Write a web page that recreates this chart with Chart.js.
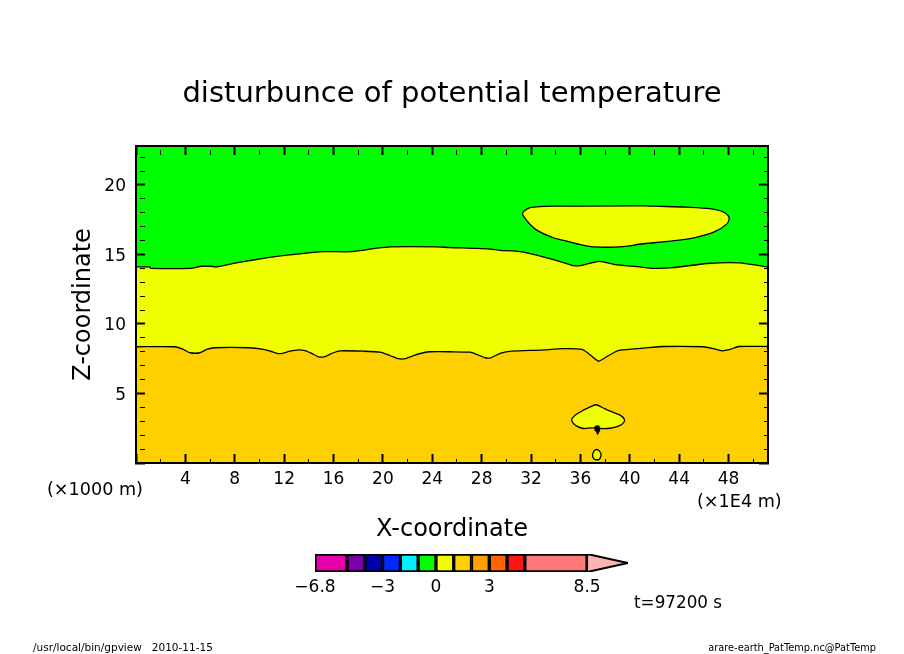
<!DOCTYPE html>
<html><head><meta charset="utf-8">
<style>html,body{margin:0;padding:0;background:#fff;overflow:hidden}canvas{position:absolute;left:0;top:0}</style>
<script src="https://cdn.jsdelivr.net/npm/chart.js@4"></script>
</head><body>
<canvas id="main" width="904" height="654"></canvas>
<canvas id="bar" width="904" height="654"></canvas>
<script>
const titleText = 'disturbunce of potential temperature';
const xLabel = 'X-coordinate';
const yLabel = 'Z-coordinate';
const FONT = '"DejaVu Sans"';
const GREEN = '#00ff00', YELLOW = '#f0ff00', GOLD = '#ffd000';

const domainTop = [[0,22.8],[51.2,22.8]];
const contourUpper = [[0,14.1],[1.1,14.1],[1.2,14.0],[4.5,14.0],[5.3,14.15],[6.1,14.15],[6.4,14.1],[7.9,14.35],[9.5,14.6],[11.7,14.9],[13.3,15.05],[15.1,15.2],[17.5,15.2],[19.5,15.45],[20.6,15.55],[24.3,15.55],[25.4,15.5],[28.5,15.4],[29.5,15.3],[31.1,15.2],[32.7,14.9],[34.1,14.55],[35.4,14.2],[36,14.2],[37.5,14.5],[39,14.25],[40.8,14.1],[41.9,14.0],[43.5,14.05],[46.25,14.35],[48.9,14.4],[51.2,14.1]];
const contourLower = [[0,8.36],[3.16,8.36],[3.83,8.17],[4.38,7.93],[5.19,7.93],[5.73,8.17],[6.4,8.29],[9.1,8.29],[10.32,8.17],[11.13,7.97],[11.67,7.86],[12.48,8.04],[13.15,8.14],[13.7,8.09],[14.24,7.88],[14.77,7.64],[15.24,7.64],[15.99,7.93],[16.53,8.07],[18.42,8.04],[19.77,7.97],[20.58,7.73],[21.26,7.5],[21.8,7.5],[22.47,7.73],[23.28,7.93],[23.82,8.0],[25.45,8.0],[27.07,7.97],[27.6,7.81],[28.28,7.57],[28.74,7.57],[29.5,7.88],[30.45,8.04],[32.74,8.12],[34.63,8.22],[36.12,8.17],[36.65,7.88],[37.46,7.32],[37.87,7.5],[38.68,7.93],[39.22,8.12],[41.1,8.26],[42.73,8.38],[45.97,8.36],[46.78,8.22],[47.46,8.07],[48.14,8.17],[48.81,8.38],[51.2,8.38]];
const blobUpper = [[31.3,17.88],[31.4,18.09],[31.93,18.36],[33.8,18.47],[41.1,18.5],[42.06,18.47],[44.6,18.4],[46.5,18.29],[47.6,18.04],[48.05,17.64],[47.87,17.2],[46.8,16.6],[45.2,16.2],[43.3,15.96],[41.1,15.77],[39.2,15.55],[37.06,15.55],[35.7,15.77],[34.9,15.96],[33.8,16.2],[32.5,16.73],[31.8,17.28],[31.3,17.88]];
const blobLower = [[35.27,3.13],[35.57,3.44],[36.25,3.8],[36.93,4.09],[37.28,4.19],[37.74,4.01],[38.41,3.73],[39.22,3.44],[39.57,3.13],[39.49,2.89],[39.08,2.65],[38.41,2.5],[37.6,2.48],[36.93,2.53],[36.25,2.48],[35.71,2.65],[35.39,2.89],[35.27,3.13]];
const blobSpeck = [[37.2,2.65],[37.5,2.65],[37.55,2.35],[37.4,2.1],[37.25,2.35],[37.2,2.65]];
const blobCircle = [[36.98,0.6],[37.1,0.85],[37.33,0.97],[37.55,0.85],[37.68,0.6],[37.6,0.35],[37.5,0.25],[37.2,0.25],[37.05,0.35],[36.98,0.6]];

const colorLevels = [-6.8,-5,-4,-3,-2,-1,0,1,2,3,4,5,8.5];
const colorFills = ['#e600aa','#7a00aa','#0000aa','#0028ff','#00f0ff','#00ff00','#f0ff00','#ffd000','#ffa000','#ff6600','#ff1414','#ff7878'];
const colorTicks = [-6.8,-3,0,3,8.5];
const colorTip = [[8.5,1],[10.8,0.5],[8.5,0],[8.5,1]];
const tipFill = '#ffb4b4';

const pts = a => a.map(p => ({x:p[0], y:p[1]}));
const line = (data, fill, color, width, tension) => ({data: pts(data), showLine:true, fill, backgroundColor:color, borderColor:'#000', borderWidth:width, pointRadius:0, tension});

const overlayText = {
  id:'overlayText',
  afterDraw(chart){
    const c = chart.ctx;
    c.save();
    c.fillStyle = '#000';
    c.textBaseline = 'middle';
    c.textAlign = 'left';
    c.font = '17.6px ' + FONT;
    c.fillText('(×1000 m)', 47, 490);
    c.fillText('(×1E4 m)', 697, 502);
    c.font = '16.8px ' + FONT;
    c.fillText('t=97200 s', 634, 604);
    c.font = '10.5px ' + FONT;
    c.fillText('/usr/local/bin/gpview   2010-11-15', 33, 648);
    c.textAlign = 'right';
    c.font = '9.8px ' + FONT;
    c.fillText('arare-earth_PatTemp.nc@PatTemp', 876, 648);
    c.restore();
  }
};

const axisCommon = (major) => ({
  type:'linear',
  grid:{drawOnChartArea:false, tickLength:-9, z:1, tickColor:'#000',
    tickWidth:c => (c.tick && c.tick.value % major === 0) ? 2 : 1,
    tickBorderDash:c => (c.tick && c.tick.value % major === 0) ? [] : [5,100]},
  border:{display:true, color:'#000', width:2, z:2}
});

new Chart(document.getElementById('main'), {
  type:'scatter',
  data:{datasets:[
    line(blobCircle,'shape',YELLOW,1.3,0.3),
    line(blobSpeck,'shape','#000',1.3,0),
    line(blobLower,'shape',YELLOW,1.3,0.3),
    line(blobUpper,'shape',YELLOW,1.3,0.3),
    line(contourLower,'start',GOLD,1.3,0.2),
    line(contourUpper,'start',YELLOW,1.3,0.2),
    line(domainTop,'start',GREEN,0,0)
  ]},
  options:{
    responsive:false, animation:false, devicePixelRatio:1,
    events:[],
    layout:{padding:0},
    plugins:{
      legend:{display:false}, tooltip:{enabled:false},
      title:{display:true, text:titleText, color:'#000', font:{family:FONT, size:29, weight:'normal'}, padding:{top:77,bottom:0}}
    },
    scales:{
      x:{...axisCommon(4), position:'bottom', min:0, max:51.2,
        afterFit:s=>{s.height=654-463;},
        ticks:{stepSize:2, includeBounds:false, maxTicksLimit:100, autoSkip:false, maxRotation:0, color:'#000', font:{family:FONT,size:17}, padding:15,
          callback:v => (v % 4 === 0 && v !== 0) ? String(v) : ''},
        title:{display:true, text:xLabel, color:'#000', font:{family:FONT,size:24}, padding:{top:0,bottom:110}}},
      xTop:{...axisCommon(4), axis:'x', position:'top', min:0, max:51.2,
        afterFit:s=>{s.height=146-s.chart.titleBlock.height;},
        ticks:{stepSize:2, includeBounds:false, maxTicksLimit:100, autoSkip:false, display:false}},
      y:{...axisCommon(5), position:'left', min:0, max:22.8,
        afterFit:s=>{s.width=136;},
        ticks:{stepSize:1, includeBounds:false, maxTicksLimit:100, autoSkip:false, color:'#000', font:{family:FONT,size:17}, padding:19, labelOffset:2,
          callback:v => (v % 5 === 0 && v !== 0) ? String(v) : ''},
        title:{display:true, text:yLabel, color:'#000', font:{family:FONT,size:24}, padding:{top:69,bottom:0}}},
      yRight:{...axisCommon(5), axis:'y', position:'right', min:0, max:22.8,
        afterFit:s=>{s.width=904-768;},
        ticks:{stepSize:1, includeBounds:false, maxTicksLimit:100, autoSkip:false, display:false}}
    }
  },
  plugins:[overlayText]
});

const colorBars = colorFills.map((c,i) => ({
  type:'bar', indexAxis:'y', data:[[colorLevels[i], colorLevels[i+1]]],
  xAxisID:'x', yAxisID:'yc', backgroundColor:c, borderColor:'#000', borderWidth:2, borderSkipped:false,
  barPercentage:1, categoryPercentage:1, grouped:false
}));

new Chart(document.getElementById('bar'), {
  data:{labels:[''], datasets:[
    {type:'scatter', data:pts(colorTip), showLine:true, fill:'shape', backgroundColor:tipFill, borderColor:'#000', borderWidth:2, pointRadius:0, xAxisID:'x', yAxisID:'yt'},
    ...colorBars
  ]},
  options:{
    responsive:false, animation:false, devicePixelRatio:1, events:[],
    layout:{padding:{top:554,right:904-628}},
    plugins:{legend:{display:false}, tooltip:{enabled:false}, title:{display:false}},
    scales:{
      x:{type:'linear', position:'bottom', min:-6.8, max:10.8, offset:false,
        afterBuildTicks:s=>{s.ticks=colorTicks.map(v=>({value:v}));},
        afterFit:s=>{s.height=654-572;},
        grid:{display:false}, border:{display:false},
        ticks:{autoSkip:false, maxRotation:0, color:'#000', font:{family:FONT,size:17}, padding:-3,
          callback:v=>String(v).replace('-','\u2212')}},
      yc:{type:'category', axis:'y', position:'left', afterFit:s=>{s.width=315;}, grid:{display:false}, border:{display:false}, ticks:{display:false}},
      yt:{type:'linear', axis:'y', position:'right', min:0, max:1, display:false}
    }
  }
});
</script>
</body></html>
